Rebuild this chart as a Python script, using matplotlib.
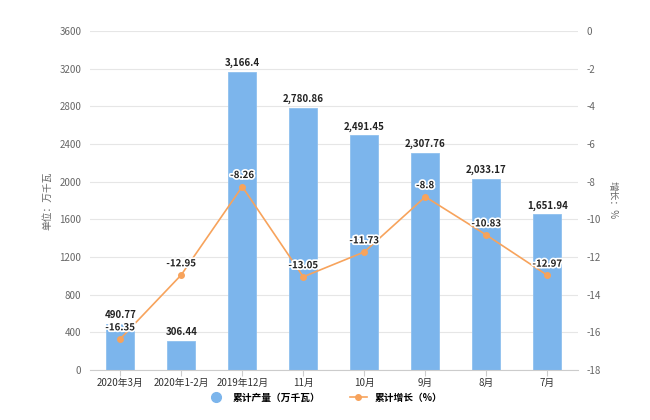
import matplotlib.pyplot as plt
from matplotlib.lines import Line2D
import matplotlib.patheffects as pe

plt.rcParams['font.family'] = ['Noto Sans CJK SC', 'DejaVu Sans']
plt.rcParams['axes.unicode_minus'] = False

categories = ["2020年3月", "2020年1-2月", "2019年12月", "11月", "10月", "9月", "8月", "7月"]
output = [490.77, 306.44, 3166.4, 2780.86, 2491.45, 2307.76, 2033.17, 1651.94]
output_labels = ["490.77", "306.44", "3,166.4", "2,780.86", "2,491.45", "2,307.76", "2,033.17", "1,651.94"]
growth = [-16.35, -12.95, -8.26, -13.05, -11.73, -8.8, -10.83, -12.97]

bar_color = "#7cb5ec"
line_color = "#f7a35c"
tick_color = "#666666"

fig = plt.figure(figsize=(6.5, 4.2), dpi=100)
ax = fig.add_axes([0.138, 0.119, 0.751, 0.807])
ax2 = ax.twinx()

x = list(range(len(categories)))
ax.bar(x, output, width=0.46, color=bar_color, edgecolor="#8fc0ee", linewidth=0.6, zorder=2)
ax.set_ylim(0, 3600)
ax.set_yticks(range(0, 3601, 400))
ax.set_xlim(-0.5, len(categories) - 0.5)
ax.grid(axis="y", color="#e6e6e6", linewidth=0.8, zorder=0)
ax.set_axisbelow(True)
ax.set_xticks(x)
ax.set_xticklabels(categories)

for xi, v, lab in zip(x, output, output_labels):
    ax.text(xi, v + 40, lab, ha="center", va="bottom", fontsize=7, fontweight="bold",
            color="#222222", zorder=5)

ax2.plot(x, growth, color=line_color, linewidth=1.2, marker="o", markersize=4, zorder=4)
ax2.set_ylim(-18, 0)
ax2.set_yticks(range(-18, 1, 2))
for xi, g in zip(x, growth):
    ax2.text(xi, g + 0.35, str(g), ha="center", va="bottom", fontsize=7, fontweight="bold",
             color="#222222", zorder=6,
             path_effects=[pe.withStroke(linewidth=2.5, foreground="white")])

for a in (ax, ax2):
    for s in a.spines.values():
        s.set_visible(False)
    a.tick_params(axis="y", length=0, labelsize=7, colors=tick_color, pad=6)
ax.spines["bottom"].set_visible(True)
ax.spines["bottom"].set_color("#cccccc")
ax.tick_params(axis="x", length=4, color="#cccccc", labelsize=7, labelcolor="#333333", pad=2)

ax.set_ylabel("单位：万千瓦", fontsize=7, color=tick_color, labelpad=5)
ax2.set_ylabel("增长：%", fontsize=7, color=tick_color, rotation=270, labelpad=12)

handles = [
    Line2D([0], [0], marker="o", color="none", markerfacecolor=bar_color,
           markeredgecolor=bar_color, markersize=7),
    Line2D([0], [0], marker="o", color=line_color, markersize=4, linewidth=1.2),
]
fig.legend(handles, ["累计产量（万千瓦）", "累计增长（%）"], loc="center",
           bbox_to_anchor=(0.5, 0.053), ncol=2, frameon=False,
           prop={"size": 7, "weight": "bold"}, handlelength=1.8, columnspacing=3)

fig.savefig("out.png", dpi=100)
